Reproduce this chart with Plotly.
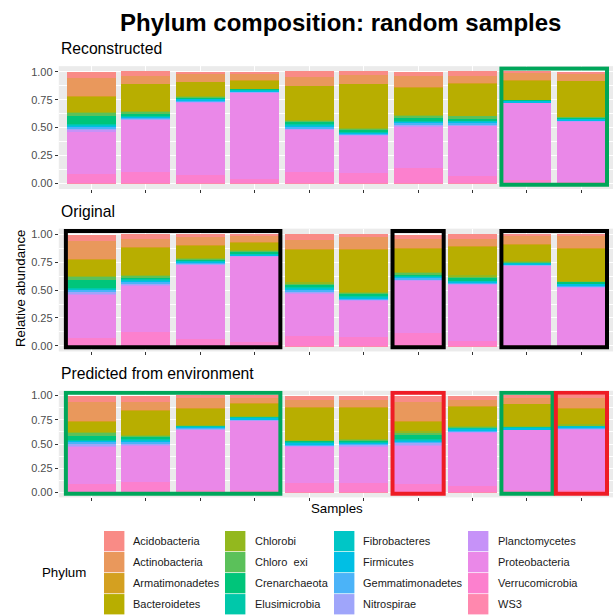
import plotly.graph_objects as go

# ---------------- data ----------------
PHYLA = ["Acidobacteria", "Actinobacteria", "Armatimonadetes", "Bacteroidetes",
         "Chlorobi", "Chloro\u00a0\u00a0exi", "Crenarchaeota", "Elusimicrobia",
         "Fibrobacteres", "Firmicutes", "Gemmatimonadetes", "Nitrospirae",
         "Planctomycetes", "Proteobacteria", "Verrucomicrobia", "WS3"]

SAMPLES = [1, 2, 3, 4, 5, 6, 7, 8, 9, 10]

RECONSTRUCTED = [
    [.054, .042, .015, .021, .054, .030, .042, .045, .012, .018],
    [.167, .071, .074, .057, .074, .080, .095, .065, .062, .065],
    [.002, .002, .002, .002, .002, .002, .002, .002, .002, .002],
    [.137, .241, .125, .071, .304, .395, .247, .289, .173, .318],
    [.004, .003, .003, .003, .003, .003, .003, .003, .002, .002],
    [.032, .024, .010, .003, .013, .019, .028, .025, .002, .004],
    [.074, .018, .008, .002, .024, .015, .024, .015, .002, .008],
    [.006, .004, .004, .003, .004, .003, .004, .004, .002, .004],
    [.006, .004, .004, .005, .004, .003, .004, .004, .004, .004],
    [.008, .006, .012, .013, .010, .008, .010, .013, .014, .012],
    [.020, .012, .009, .003, .020, .009, .017, .018, .002, .004],
    [.008, .004, .004, .002, .005, .003, .004, .004, .002, .002],
    [.019, .006, .006, .002, .008, .004, .008, .006, .002, .002],
    [.380, .470, .650, .772, .380, .340, .372, .450, .686, .540],
    [.080, .095, .072, .040, .095, .086, .135, .062, .032, .015],
    [.003, .003, .002, .002, .003, .003, .005, .003, .001, .001],
]

ORIGINAL = [
    [.057, .042, .027, .012, .054, .030, .036, .042, .012, .009],
    [.164, .068, .074, .062, .074, .107, .083, .060, .074, .116],
    [.002, .002, .002, .002, .002, .002, .002, .002, .002, .002],
    [.143, .253, .110, .071, .301, .380, .214, .265, .155, .292],
    [.004, .003, .003, .003, .003, .003, .003, .003, .002, .002],
    [.032, .015, .012, .010, .018, .018, .012, .024, .002, .004],
    [.074, .018, .008, .010, .018, .018, .015, .015, .002, .012],
    [.004, .004, .003, .004, .004, .003, .004, .003, .003, .003],
    [.004, .004, .004, .004, .004, .003, .004, .003, .004, .004],
    [.006, .012, .008, .012, .012, .008, .010, .010, .014, .012],
    [.024, .021, .012, .003, .025, .010, .012, .012, .002, .012],
    [.008, .004, .004, .002, .005, .003, .004, .003, .002, .002],
    [.013, .006, .006, .002, .010, .004, .008, .004, .006, .003],
    [.390, .420, .670, .772, .380, .333, .470, .507, .710, .520],
    [.068, .125, .058, .033, .086, .077, .115, .045, .009, .009],
    [.003, .003, .002, .002, .003, .003, .004, .002, .001, .001],
]

PREDICTED = [
    [.062, .062, .027, .017, .041, .041, .062, .041, .017, .027],
    [.200, .086, .100, .065, .076, .076, .200, .065, .069, .100],
    [.002, .002, .002, .002, .002, .002, .002, .002, .002, .002],
    [.107, .255, .172, .125, .335, .328, .106, .210, .226, .170],
    [.004, .003, .004, .003, .003, .003, .004, .003, .003, .004],
    [.037, .014, .004, .002, .008, .010, .036, .004, .002, .003],
    [.041, .024, .003, .003, .010, .012, .040, .005, .003, .003],
    [.005, .004, .003, .004, .005, .005, .005, .004, .004, .003],
    [.006, .005, .005, .007, .006, .006, .005, .007, .006, .006],
    [.010, .015, .012, .012, .013, .008, .008, .012, .014, .013],
    [.027, .024, .007, .008, .013, .014, .026, .012, .004, .008],
    [.008, .005, .004, .003, .004, .005, .008, .004, .002, .004],
    [.013, .009, .006, .005, .008, .009, .013, .006, .004, .006],
    [.390, .380, .625, .718, .375, .380, .395, .555, .620, .626],
    [.085, .108, .025, .025, .098, .098, .087, .068, .026, .025],
    [.003, .003, .002, .002, .003, .003, .003, .002, .002, .002],
]

PANEL_TITLES = ["Reconstructed", "Original", "Predicted from environment"]
Y_TICKS = [0, 0.25, 0.5, 0.75, 1.0]
Y_TICK_LABELS = ["0.00", "0.25", "0.50", "0.75", "1.00"]

# highlighted sample groups: (first sample, last sample, colour name)
RECON_BOXES = [(9, 10, "green")]
ORIG_BOXES = [(1, 4, "black"), (7, 7, "black"), (9, 10, "black")]
PRED_BOXES = [(1, 4, "green"), (7, 7, "red"), (9, 9, "green"), (10, 10, "red")]

# ---------------- style ----------------
COLORS = ["#F98B86", "#E9985C", "#D4A020", "#B8AE00", "#93B81E", "#5BC15A",
          "#00C57A", "#00C8AA", "#00C6C6", "#00BFE4", "#4BB3F8", "#9FA5FA",
          "#C692F8", "#EA88E8", "#FC80CE", "#FF88AE"]
BOX_COLORS = {"green": "#00A65A", "black": "#000000", "red": "#EE1C25"}

FONT = "Liberation Sans, Arial, sans-serif"
W, H = 613, 616


def px(x):
    return x / W


def py(y):
    return 1 - y / H


PANEL_PX = [(65.4, 188.6), (228.4, 351.6), (391.0, 498.0)]
X_LEFT = 58.8
X_UNIT = 54.44
X_RANGE = [0.4, 0.4 + (W - X_LEFT) / X_UNIT]

fig = go.Figure()
panels = [(RECONSTRUCTED, RECON_BOXES), (ORIGINAL, ORIG_BOXES), (PREDICTED, PRED_BOXES)]
for p, (data, boxes) in enumerate(panels):
    sfx = "" if p == 0 else str(p + 1)
    xa, ya = "x" + sfx, "y" + sfx
    for i in reversed(range(len(PHYLA))):
        fig.add_trace(go.Bar(
            x=SAMPLES, y=data[i], name=PHYLA[i], width=0.9,
            marker=dict(color=COLORS[i], line=dict(width=0)),
            xaxis=xa, yaxis=ya, showlegend=False))
    for s, e, c in boxes:
        fig.add_shape(type="rect", xref=xa, yref=ya, x0=s - 0.47, x1=e + 0.47,
                      y0=-0.012, y1=1.03, layer="above",
                      line=dict(color=BOX_COLORS[c], width=4))
    top, bot = PANEL_PX[p]
    fig.layout["xaxis" + sfx] = dict(
        domain=[px(X_LEFT), 1.0], anchor=ya, range=X_RANGE,
        tickmode="array", tickvals=SAMPLES, showticklabels=False,
        ticks="outside", ticklen=3, tickcolor="#333333", tickwidth=1,
        showgrid=True, gridcolor="white", gridwidth=1.1, zeroline=False,
        showline=False, fixedrange=True)
    fig.layout["yaxis" + sfx] = dict(
        domain=[py(bot), py(top)], anchor=xa, range=[-0.05, 1.05],
        tickmode="array", tickvals=Y_TICKS, ticktext=Y_TICK_LABELS,
        ticks="outside", ticklen=3, tickcolor="#333333", tickwidth=1,
        tickfont=dict(size=11, color="#4D4D4D", family=FONT),
        showgrid=True, gridcolor="white", gridwidth=1.1, zeroline=False,
        minor=dict(tickmode="linear", tick0=0.125, dtick=0.25, showgrid=True,
                   gridcolor="white", gridwidth=0.55, ticks=""),
        showline=False, fixedrange=True)
    fig.add_annotation(text=PANEL_TITLES[p], xref="paper", yref="paper",
                       x=px(58.5), y=py(top - 17.5), xanchor="left", yanchor="middle",
                       showarrow=False, font=dict(size=15.7, color="#000000", family=FONT))

# title and axis titles
fig.add_annotation(text="<b>Phylum composition: random samples</b>", xref="paper", yref="paper",
                   x=px(340), y=py(22), xanchor="center", yanchor="middle", showarrow=False,
                   font=dict(size=24, color="#000000", family=FONT))
fig.add_annotation(text="Relative abundance", xref="paper", yref="paper",
                   x=px(20.5), y=py(288.5), textangle=-90, xanchor="center", yanchor="middle",
                   showarrow=False, font=dict(size=13.3, color="#000000", family=FONT))
fig.add_annotation(text="Samples", xref="paper", yref="paper",
                   x=px(336.5), y=py(509.5), xanchor="center", yanchor="middle",
                   showarrow=False, font=dict(size=13.3, color="#000000", family=FONT))

# legend (ggplot-style, 4 columns, column-major)
KEY_X = [104, 225, 334, 468]
TEXT_X = [131, 252.5, 361, 495.5]
ROW_TOP = 531.7
ROW_STEP = 21.1
KEY = 20.4
fig.add_annotation(text="Phylum", xref="paper", yref="paper", x=px(40), y=py(573.5),
                   xanchor="left", yanchor="middle", showarrow=False,
                   font=dict(size=13.3, color="#000000", family=FONT))
for k, name in enumerate(PHYLA):
    col, row = k // 4, k % 4
    y0 = ROW_TOP + row * ROW_STEP
    fig.add_shape(type="rect", xref="paper", yref="paper",
                  x0=px(KEY_X[col]), x1=px(KEY_X[col] + KEY),
                  y0=py(y0 + KEY), y1=py(y0),
                  fillcolor=COLORS[k], line=dict(width=0))
    fig.add_annotation(text=name, xref="paper", yref="paper",
                       x=px(TEXT_X[col]), y=py(y0 + KEY / 2), xanchor="left", yanchor="middle",
                       showarrow=False, font=dict(size=11, color="#1A1A1A", family=FONT))

fig.update_layout(
    width=W, height=H, autosize=False, barmode="stack", bargap=0.1,
    margin=dict(l=0, r=0, t=0, b=0),
    paper_bgcolor="white", plot_bgcolor="#EBEBEB",
    font=dict(family=FONT), showlegend=False,
)

fig.write_html(
    "out.html",
    config={"displayModeBar": False},
    post_script="document.body.style.margin='0';document.body.style.overflow='hidden';",
)
